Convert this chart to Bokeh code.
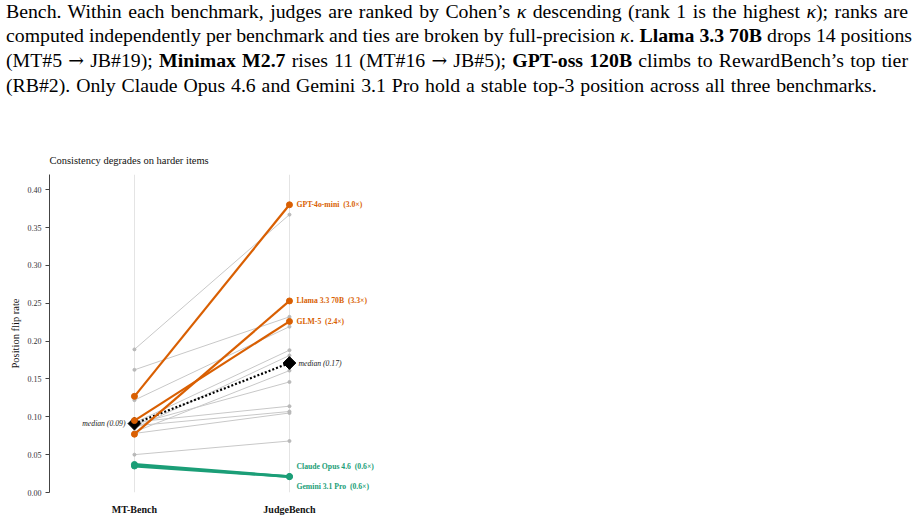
import numpy as np
from bokeh.plotting import figure
from bokeh.models import Div, Range1d, FixedTicker, ColumnDataSource, NumeralTickFormatter
from bokeh.layouts import column
from bokeh.core.properties import value
from bokeh.embed import file_html
from bokeh.resources import INLINE

# ---------------- data ----------------
benchmarks = ["MT-Bench", "JudgeBench"]

other_mt = [0.189, 0.162, 0.122, 0.092, 0.085, 0.080, 0.090, 0.093, 0.088, 0.078, 0.050]
other_jb = [0.367, 0.232, 0.219, 0.188, 0.181, 0.161, 0.146, 0.114, 0.107, 0.105, 0.068]

worse_names = ["GPT-4o-mini", "Llama 3.3 70B", "GLM-5"]
worse_mt = [0.127, 0.077, 0.095]
worse_jb = [0.380, 0.253, 0.226]

stable_names = ["Claude Opus 4.6", "Gemini 3.1 Pro"]
stable_mt = [0.037, 0.035]
stable_jb = [0.021, 0.021]

median_vals = [0.091, 0.171]

y_ticks = [0.00, 0.05, 0.10, 0.15, 0.20, 0.25, 0.30, 0.35, 0.40]

title_text = "Consistency degrades on harder items"
y_label = "Position flip rate"

# ---------------- style ----------------
SERIF = "Liberation Serif"
ORANGE = "#d95f02"
GREEN = "#1b9e77"
GREY = "#c8c8c8"
GREY_PT = "#b8b8b8"
GAP = " \u00a0"

xpos = list(range(len(benchmarks)))

# ---------------- paragraph ----------------
K = "<i>&kappa;</i>"
AR = "<span style=\"font-family:'DejaVu Serif';font-size:0.95em;\">&rarr;</span>"
lines = [
    f"Bench. Within each benchmark, judges are ranked by Cohen&rsquo;s {K} descending (rank 1 is the highest {K}); ranks are",
    f"computed independently per benchmark and ties are broken by full-precision {K}. <b>Llama 3.3 70B</b> drops 14 positions",
    f"(MT#5 {AR} JB#19); <b>Minimax M2.7</b> rises 11 (MT#16 {AR} JB#5); <b>GPT-oss 120B</b> climbs to RewardBench&rsquo;s top tier",
    "(RB#2). Only Claude Opus 4.6 and Gemini 3.1 Pro hold a stable top-3 position across all three benchmarks.",
]
html = ("<div style=\"font-family:'Liberation Serif',serif;font-size:19.8px;line-height:24.3px;"
        "color:#000;width:908px;padding:0 0 0 6px;margin-top:-1px;\">")
for i, ln in enumerate(lines):
    if i < len(lines) - 1:
        html += f"<div style='text-align:justify;text-align-last:justify;white-space:nowrap;'>{ln}</div>"
    else:
        html += f"<div style='text-align:left;white-space:nowrap;word-spacing:0.9px;'>{ln}</div>"
html += "</div>"
div = Div(text=html, width=921, height=100, margin=0)

# ---------------- figure ----------------
p = figure(frame_width=348, frame_height=318,
           x_range=Range1d(-0.548, 1.697), y_range=Range1d(0, 0.42),
           output_backend="svg", toolbar_location=None,
           min_border_left=49, min_border_right=10, min_border_top=74, min_border_bottom=23,
           margin=0)
p.outline_line_color = None
p.background_fill_color = "white"
p.border_fill_color = "white"

p.title.text = title_text
p.title.text_font = SERIF
p.title.text_font_size = "10.5px"
p.title.text_font_style = "normal"
p.title.text_color = "#111"
p.title.align = "left"
p.title.standoff = 17

# axes
p.xaxis.ticker = FixedTicker(ticks=xpos)
p.xaxis.major_label_overrides = {i: b for i, b in zip(xpos, benchmarks)}
p.xaxis.axis_line_color = None
p.xaxis.major_tick_line_color = None
p.xaxis.minor_tick_line_color = None
p.xaxis.major_label_text_font = SERIF
p.xaxis.major_label_text_font_size = "10px"
p.xaxis.major_label_text_font_style = "bold"
p.xaxis.major_label_text_color = "#111"
p.xaxis.major_label_standoff = 5

p.yaxis.ticker = FixedTicker(ticks=y_ticks)
p.yaxis.formatter = NumeralTickFormatter(format="0.00")
p.yaxis.axis_label = y_label
p.yaxis.axis_label_text_font = SERIF
p.yaxis.axis_label_text_font_size = "10.5px"
p.yaxis.axis_label_text_font_style = "normal"
p.yaxis.axis_label_text_color = "#111"
p.yaxis.axis_label_standoff = 4
p.yaxis.axis_line_color = "#444"
p.yaxis.major_tick_line_color = "#444"
p.yaxis.major_tick_out = 4
p.yaxis.major_tick_in = 0
p.yaxis.minor_tick_line_color = None
p.yaxis.major_label_text_font = SERIF
p.yaxis.major_label_text_font_size = "8px"
p.yaxis.major_label_text_color = "#333"
p.yaxis.major_label_standoff = 4

p.ygrid.visible = False
p.xgrid.grid_line_color = "#e4e4e4"
p.xgrid.grid_line_width = 1

# other judges (grey)
p.multi_line(xs=[xpos] * len(other_mt),
             ys=[[a, b] for a, b in zip(other_mt, other_jb)],
             line_color=GREY, line_width=1)
p.scatter(x=[xpos[0]] * len(other_mt) + [xpos[1]] * len(other_jb),
          y=other_mt + other_jb, size=3, color=GREY_PT, marker="circle")

# median
p.line(x=xpos, y=median_vals, line_color="black", line_width=2.2, line_dash="2 2")
p.scatter(x=xpos, y=median_vals, marker="square", angle=np.pi / 4, size=9, color="black")
p.text(x=[xpos[0]], y=[median_vals[0]], text=[f"median ({median_vals[0]:.2f})"],
       text_font=value(SERIF), text_font_size="7.7px", text_font_style="italic",
       text_color="#222", text_align="right", text_baseline="middle", x_offset=-9)
p.text(x=[xpos[1]], y=[median_vals[1]], text=[f"median ({median_vals[1]:.2f})"],
       text_font=value(SERIF), text_font_size="7.7px", text_font_style="italic",
       text_color="#222", text_align="left", text_baseline="middle", x_offset=9)

# degrading judges (orange)
for a, b in zip(worse_mt, worse_jb):
    p.line(x=xpos, y=[a, b], line_color=ORANGE, line_width=2.2)
p.scatter(x=[xpos[0]] * 3 + [xpos[1]] * 3, y=worse_mt + worse_jb, size=6,
          color=ORANGE, marker="circle")
wsrc = ColumnDataSource(dict(
    x=[xpos[1]] * len(worse_names), y=worse_jb,
    t=[f"{n}{GAP}({b / a:.1f}\u00d7)" for n, a, b in zip(worse_names, worse_mt, worse_jb)]))
p.text(x="x", y="y", text="t", source=wsrc, text_font=value(SERIF), text_font_size="7.7px",
       text_font_style="bold", text_color=ORANGE, text_baseline="middle", x_offset=7)

# stable judges (green)
for a, b in zip(stable_mt, stable_jb):
    p.line(x=xpos, y=[a, b], line_color=GREEN, line_width=2.8)
p.scatter(x=[xpos[0]] * 2 + [xpos[1]] * 2, y=stable_mt + stable_jb, size=6,
          color=GREEN, marker="circle")
ssrc = ColumnDataSource(dict(
    x=[xpos[1]] * len(stable_names), y=stable_jb,
    t=[f"{n}{GAP}({b / a:.1f}\u00d7)" for n, a, b in zip(stable_names, stable_mt, stable_jb)],
    dy=[-10, 10]))
p.text(x="x", y="y", text="t", source=ssrc, text_font=value(SERIF), text_font_size="7.7px",
       text_font_style="bold", text_color=GREEN, text_baseline="middle", x_offset=7,
       y_offset="dy")

layout = column(div, p, margin=0, spacing=0)
open("out.html", "w").write(file_html(layout, INLINE))
